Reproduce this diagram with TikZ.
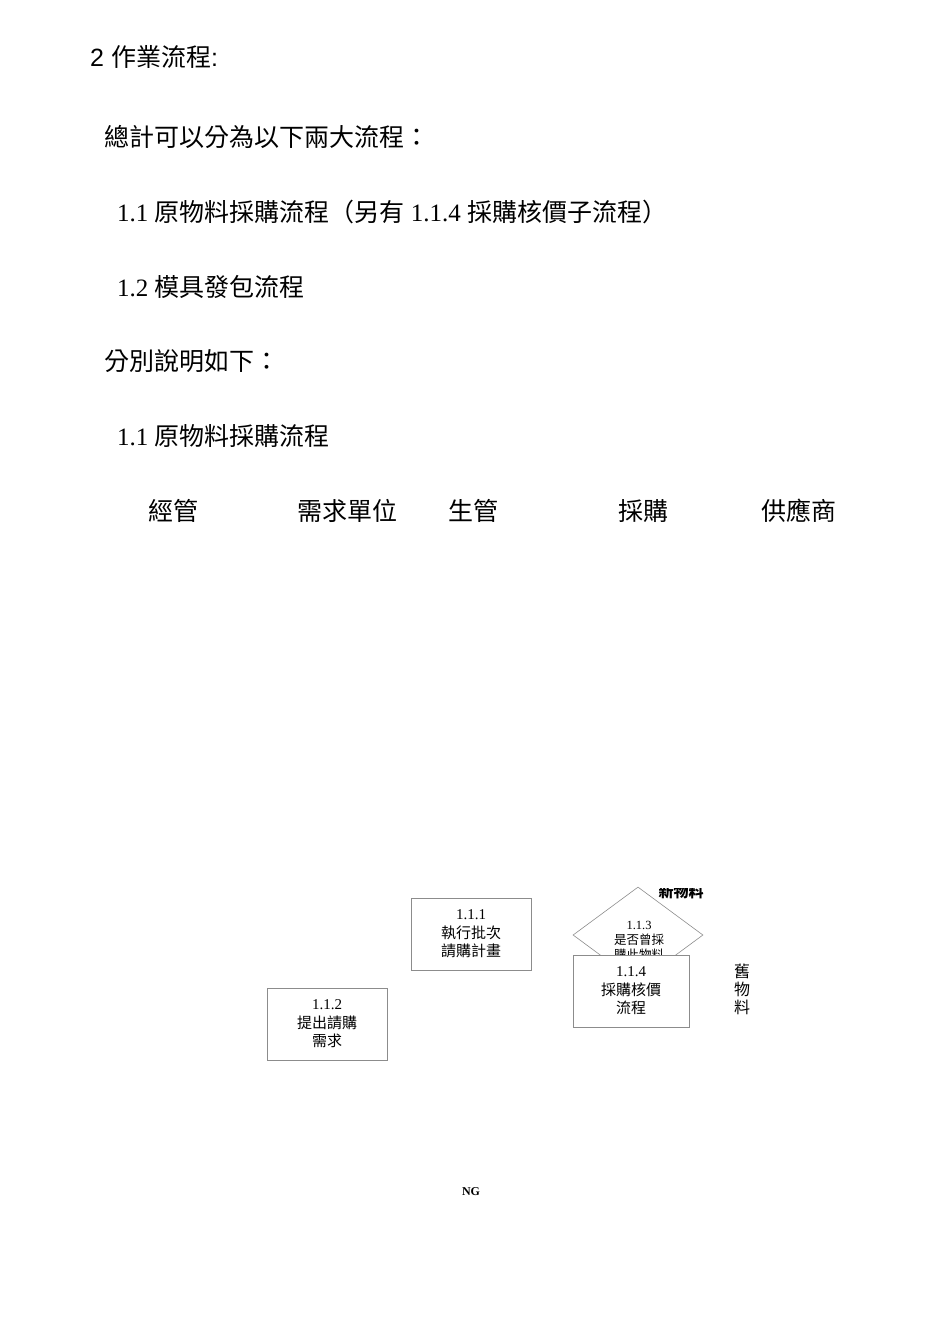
\documentclass[tikz,border=0pt]{standalone}
\usepackage{fontspec}
\setmainfont{Liberation Serif}
\newfontfamily\cjk{Noto Sans CJK TC}
\newfontfamily\arialf{Liberation Sans}
\usetikzlibrary{shapes.geometric}
\begin{document}
\begin{tikzpicture}[x=1pt,y=-1pt,
  head/.style={anchor=west,inner sep=0pt,font=\fontsize{25}{30}\selectfont},
  col/.style={inner sep=0pt,font=\cjk\fontsize{25}{30}\selectfont},
  procbox/.style={draw=black!45,line width=0.6pt,fill=white,minimum width=120pt,minimum height=72pt,inner sep=0pt,align=center,font=\fontsize{15}{18.5}\selectfont},
  decision/.style={draw=black!45,line width=0.6pt,diamond,minimum width=130pt,minimum height=96pt,inner sep=0pt},
  smalltxt/.style={inner sep=0pt,align=center,font=\fontsize{12.5}{15}\selectfont}]
\useasboundingbox (0,0) rectangle (950,1344);
% headings
\node[head] (h0) at (90,57) {\arialf 2 \cjk 作業流程\arialf :};
\node[head] (h1) at (104,137) {\cjk 總計可以分為以下兩大流程：};
\node[head] (h2) at (117,212) {1.1 {\cjk 原物料採購流程（另有} 1.1.4 {\cjk 採購核價子流程）}};
\node[head] (h3) at (117,287) {1.2 {\cjk 模具發包流程}};
\node[head] (h4) at (104,361) {\cjk 分別說明如下：};
\node[head] (h5) at (117,436) {1.1 {\cjk 原物料採購流程}};
% column headers
\node[col] (c1) at (173,511) {經管};
\node[col] (c2) at (347,511) {需求單位};
\node[col] (c3) at (473,511) {生管};
\node[col] (c4) at (643,511) {採購};
\node[col] (c5) at (799,511) {供應商};
% process nodes
\node[procbox] (p111) at (471,934) {1.1.1\\{\cjk 執行批次}\\{\cjk 請購計畫}};
\node[procbox] (p112) at (327,1024) {1.1.2\\{\cjk 提出請購}\\{\cjk 需求}};
\node[decision] (d113) at (638,935) {};
\node[smalltxt] (t113) at (639,941) {1.1.3\\{\cjk 是否曾採}\\{\cjk 購此物料}};
\node[procbox,minimum width=116pt] (p114) at (631,991) {1.1.4\\{\cjk 採購核價}\\{\cjk 流程}};
% labels
\begin{scope}
\clip (640,888) rectangle (720,900);
\node[inner sep=0pt,font=\cjk\bfseries\fontsize{15}{15}\selectfont] (lnew) at (681,892) {新物料};
\end{scope}
\node[inner sep=0pt,align=center,font=\cjk\fontsize{16}{18}\selectfont] (lold) at (742,989) {舊\\物\\料};
\node[inner sep=0pt,font=\bfseries\fontsize{12}{14}\selectfont] (ng) at (471,1192) {NG};
\end{tikzpicture}
\end{document}
